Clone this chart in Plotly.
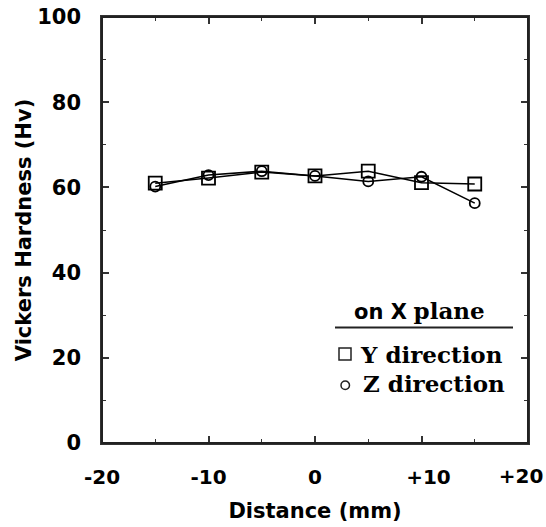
import plotly.graph_objects as go

distance = [-15, -10, -5, 0, 5, 10, 15]
y_direction = [61.0, 62.2, 63.6, 62.7, 63.8, 61.1, 60.8]
z_direction = [60.2, 62.9, 63.8, 62.7, 61.4, 62.5, 56.3]

x_tickvals = [-20, -10, 0, 10]
x_ticktext = ["-20", "-10", "0", "\u00a0\u00a0+10"]
x_end_tickval = [20]
x_end_ticktext = ["+20"]
y_tickvals = [0, 20, 40, 60, 80, 100]

SANS = "DejaVu Sans"
SERIF = "DejaVu Serif"

fig = go.Figure()

fig.add_trace(go.Scatter(
    x=distance, y=y_direction, mode="lines+markers", name="Y direction",
    line=dict(color="black", width=1.5),
    marker=dict(symbol="square-open", size=13, color="black", line=dict(width=1.8)),
))
fig.add_trace(go.Scatter(
    x=distance, y=z_direction, mode="lines+markers", name="Z direction",
    line=dict(color="black", width=1.5),
    marker=dict(symbol="circle-open", size=10, color="black", line=dict(width=1.8)),
))
# empty traces so the helper axes (end label, top frame) get drawn
for ax in ("x2", "x3"):
    fig.add_trace(go.Scatter(x=[None], y=[None], xaxis=ax, yaxis="y",
                             mode="markers", showlegend=False, hoverinfo="skip"))

W, H = 546, 527
L, R, T, B = 102, 528, 17, 443
pw, ph = R - L, B - T

def px(xp):
    return (xp - L) / pw

def py(yp):
    return (B - yp) / ph

LC = "#333"
axis_common = dict(
    showline=True, linecolor=LC, linewidth=1.5, mirror="ticks",
    ticks="inside", ticklen=7, tickwidth=1.5, tickcolor=LC,
    showgrid=False, zeroline=False, automargin=False,
)
tick_font = dict(family=SANS, size=20, color="black", weight="bold")

fig.update_layout(
    width=W, height=H,
    margin=dict(l=L, r=W - R, t=T, b=H - B, autoexpand=False),
    paper_bgcolor="white", plot_bgcolor="white",
    showlegend=False,
    xaxis=dict(
        range=[-20, 20], tickvals=x_tickvals, ticktext=x_ticktext,
        minor=dict(dtick=5, tick0=0, ticks="inside", ticklen=4, tickcolor=LC, tickwidth=1.2),
        title=dict(text="Distance (mm)", standoff=16,
                   font=dict(family=SANS, size=21, color="black", weight="bold")),
        tickfont=tick_font,
        ticklabelstandoff=15, ticklabeloverflow="allow",
        **axis_common,
    ),
    xaxis2=dict(
        overlaying="x", anchor="y", side="bottom", range=[-20, 20],
        tickvals=x_end_tickval, ticktext=x_end_ticktext,
        ticks="", showline=False, showgrid=False, zeroline=False,
        tickfont=tick_font, ticklabelstandoff=19, ticklabelshift=-7,
        ticklabeloverflow="allow", automargin=False,
    ),
    xaxis3=dict(
        overlaying="x", anchor="y", side="top", range=[-20, 20],
        tickvals=x_tickvals + x_end_tickval, showticklabels=False,
        showline=True, linecolor=LC, linewidth=1.5,
        ticks="inside", ticklen=7, tickwidth=1.5, tickcolor=LC,
        minor=dict(dtick=5, tick0=0, ticks="inside", ticklen=4, tickcolor=LC, tickwidth=1.2),
        showgrid=False, zeroline=False, automargin=False,
    ),
    yaxis=dict(
        range=[0, 100], tickvals=y_tickvals,
        minor=dict(dtick=10, tick0=0, ticks="inside", ticklen=4, tickcolor=LC, tickwidth=1.2),
        title=dict(text="Vickers Hardness (Hv)", standoff=0,
                   font=dict(family=SANS, size=21, color="black", weight="bold")),
        tickfont=dict(family=SANS, size=21, color="black", weight="bold"),
        ticklabelstandoff=15, ticklabeloverflow="allow",
        **axis_common,
    ),
    annotations=[
        dict(
            x=px(352), y=py(310), xref="paper", yref="paper",
            xanchor="left", yanchor="middle", showarrow=False,
            text=("<b>on X</b> <span style='font-family:DejaVu Serif;font-size:23px'><b>plane</b></span>"),
            font=dict(family=SANS, size=21, color="black"),
        ),
        dict(
            x=px(358), y=py(354), xref="paper", yref="paper",
            xanchor="left", yanchor="middle", showarrow=False,
            text="<b>Y direction</b>",
            font=dict(family=SERIF, size=23, color="black"),
        ),
        dict(
            x=px(361), y=py(383), xref="paper", yref="paper",
            xanchor="left", yanchor="middle", showarrow=False,
            text="<b>Z direction</b>",
            font=dict(family=SERIF, size=23, color="black"),
        ),
    ],
    shapes=[
        # plot frame
        dict(type="rect", xref="paper", yref="paper",
             x0=0, x1=1, y0=0, y1=1, layer="above",
             line=dict(color="#222", width=2)),
        dict(type="line", xref="paper", yref="paper",
             x0=px(335), x1=px(513), y0=py(327.5), y1=py(327.5),
             line=dict(color="#222", width=2)),
        dict(type="rect", xref="paper", yref="paper",
             x0=px(339), x1=px(351), y0=py(360), y1=py(348),
             line=dict(color="#222", width=1.5)),
        dict(type="circle", xref="paper", yref="paper",
             x0=px(341), x1=px(349.5), y0=py(389.5), y1=py(381),
             line=dict(color="#222", width=1.5)),
    ],
)

fig.write_html("out.html", config={"displayModeBar": False},
               post_script="document.body.style.margin='0';")
